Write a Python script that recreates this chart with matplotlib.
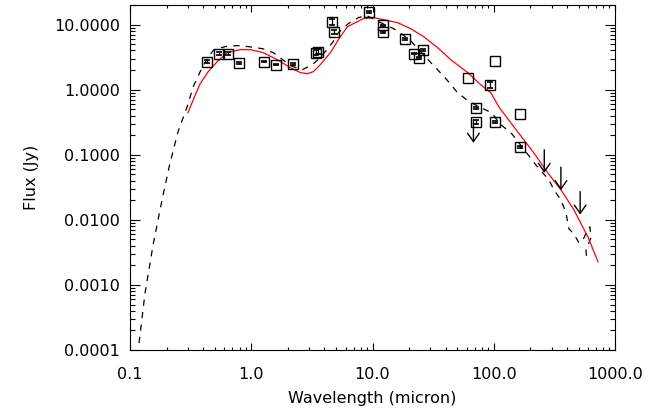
import numpy as np
import matplotlib
matplotlib.use('Agg')
import matplotlib.pyplot as plt
from matplotlib.ticker import FixedLocator, FormatStrFormatter, NullFormatter, LogLocator

# ------------------------------------------------------------
# Observed photometry (micron, Jy) read off the reference
# ------------------------------------------------------------
lam_obs = [0.433, 0.545, 0.646, 0.796, 1.28, 1.61, 2.22, 3.44, 3.55,
           4.67, 4.85, 9.27, 12.1, 12.1, 18.4, 22.2, 24.4, 25.9,
           61.0, 72.0, 72.0, 92.7, 102.0, 102.0, 164.0, 164.0]
flux_obs = [2.70, 3.58, 3.58, 2.60, 2.70, 2.43, 2.50, 3.70, 3.85,
            11.1, 7.8, 15.7, 9.7, 7.8, 6.1, 3.58, 3.10, 4.12,
            1.53, 0.53, 0.32, 1.19, 2.79, 0.32, 0.43, 0.133]
err_obs = [0.12, 0.18, 0.15, 0.08, 0.08, 0.07, 0.08, 0.30, 0.30,
           1.10, 0.60, 0.50, 0.30, 0.25, 0.20, 0.10, 0.10, 0.15,
           0.0, 0.02, 0.02, 0.12, 0.0, 0.01, 0.0, 0.005]

# upper limits (arrows pointing down)
lam_lim = [68.0, 261.0, 358.0, 516.0]
flux_lim = [0.345, 0.119, 0.0645, 0.0272]

# ------------------------------------------------------------
# Model SEDs
# ------------------------------------------------------------
lam_red = [0.301, 0.338, 0.379, 0.442, 0.524, 0.634, 0.811, 0.981, 1.256,
           1.64, 2.10, 2.54, 2.90, 3.25, 3.72, 4.50, 5.24, 6.21, 7.52,
           8.43, 10.2, 12.3, 16.1, 20.6, 26.4, 34.4, 44.2, 61.0, 78.1,
           94.5, 110.0, 138.0, 177.0, 214.0, 279.0, 358.0, 458.0, 598.0, 725.0]
flux_red = [0.443, 0.753, 1.237, 1.89, 2.70, 3.71, 4.12, 4.12, 3.71,
            2.89, 2.18, 1.83, 1.76, 1.89, 2.43, 3.71, 5.88, 9.3, 11.1,
            12.4, 12.8, 11.9, 10.7, 8.68, 6.53, 4.43, 2.89, 1.83, 1.19,
            0.899, 0.548, 0.311, 0.170, 0.107, 0.0528, 0.029, 0.01425, 0.00547, 0.00226]

lam_dash = [0.1187, 0.133, 0.155, 0.1838, 0.214, 0.249, 0.296, 0.332, 0.379,
            0.442, 0.494, 0.610, 0.766, 0.944, 1.233, 1.52, 2.10, 2.64, 3.19,
            3.72, 4.67, 5.24, 6.34, 7.66, 8.92, 11.2, 14.9, 17.7, 20.6, 24.9,
            33.8, 40.9, 49.5, 61.0, 78.1, 96.2, 112.0, 141.0, 184.0, 222.0,
            254.0, 285.0, 313.0, 358.0, 394.0, 417.0, 458.0, 504.0, 555.0,
            598.0, 621.0, 633.0, 576.0, 587.0]
flux_dash = [1.28e-4, 7.5e-4, 4.12e-3, 0.0203, 0.0753, 0.226, 0.548, 1.11, 1.89,
             3.22, 4.12, 4.59, 4.75, 4.59, 4.27, 3.71, 2.34, 2.03, 2.43,
             3.11, 5.28, 7.54, 10.4, 12.8, 13.8, 11.1, 8.68, 7.02, 5.67, 3.84,
             2.10, 1.43, 0.931, 0.677, 0.529, 0.443, 0.300, 0.210, 0.111, 0.0702,
             0.0528, 0.0412, 0.029, 0.0203, 0.0128, 0.00727, 0.0061, 0.00443, 0.00529,
             0.00727, 0.0078, 0.00529, 0.00345, 0.00226]

plt.rc('font', family='DejaVu Sans', size=11.5)
plt.rc('axes', linewidth=0.8)

fig = plt.figure(figsize=(6.51, 4.13), dpi=100)
ax = fig.add_axes([0.1997, 0.1525, 0.745, 0.8354])
ax.set_xscale('log')
ax.set_yscale('log')

ax.plot(lam_dash, flux_dash, color='k', lw=0.9, dashes=(5, 5))
ax.plot(lam_red, flux_red, color='#ff0000', lw=0.9)

# squares + small error bars
ax.plot(lam_obs, flux_obs, 's', ms=7.6, mfc='none', mec='k', mew=1.0)
lo = np.array(lam_obs)
fo = np.array(flux_obs)
eo = np.array(err_obs)
m = eo > 0
ax.errorbar(lo[m], fo[m], yerr=eo[m], fmt='none', ecolor='k',
            elinewidth=0.9, capsize=2.3, capthick=1.2)

# upper limits
for lx, fy in zip(lam_lim, flux_lim):
    ax.annotate('', xy=(lx, fy / 2.26), xytext=(lx, fy),
                arrowprops=dict(arrowstyle='->,head_length=0.6,head_width=0.42',
                                color='k', lw=1.0, shrinkA=0, shrinkB=0,
                                mutation_scale=10))

ax.set_xlim(0.1, 1000)
ax.set_ylim(1e-4, 20)

ax.xaxis.set_major_locator(FixedLocator([0.1, 1, 10, 100, 1000]))
ax.xaxis.set_major_formatter(FormatStrFormatter('%.1f'))
ax.xaxis.set_minor_locator(LogLocator(base=10, subs=np.arange(2, 10)))
ax.xaxis.set_minor_formatter(NullFormatter())
ax.yaxis.set_major_locator(FixedLocator([1e-4, 1e-3, 1e-2, 0.1, 1, 10]))
ax.yaxis.set_major_formatter(FormatStrFormatter('%.4f'))
ax.yaxis.set_minor_locator(LogLocator(base=10, subs=np.arange(2, 10)))
ax.yaxis.set_minor_formatter(NullFormatter())

ax.tick_params(which='both', direction='in', top=True, right=True, width=0.8)
ax.tick_params(axis='x', which='major', length=5, pad=12)
ax.tick_params(axis='x', which='minor', length=2.5)
ax.tick_params(axis='y', which='major', length=7, pad=7)
ax.tick_params(axis='y', which='minor', length=3.5)

ax.set_xlabel('Wavelength (micron)', labelpad=7)
ax.set_ylabel('Flux (Jy)', labelpad=11)

fig.savefig('out.png', dpi=100)
